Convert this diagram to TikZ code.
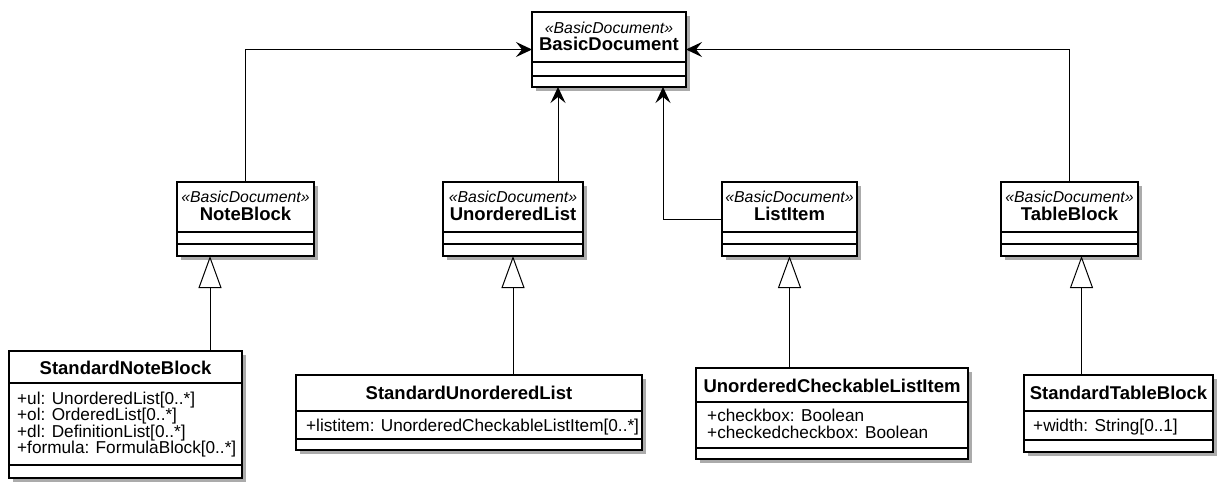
\documentclass[tikz,border=0pt]{standalone}
\usepackage{fontspec}
\setmainfont{Liberation Sans}
\usepackage{tikz}
\usetikzlibrary{arrows.meta, shadows}

\begin{document}
\begin{tikzpicture}[x=1pt, y=-1pt,
        cls/.style={draw, line width=1.7pt, fill=white, anchor=north west, inner sep=0pt, outer sep=0pt,
            drop shadow={shadow xshift=4pt, shadow yshift=-4pt, fill=black!55, opacity=.6}},
        stereo/.style={anchor=base, inner sep=0pt, font=\fontsize{15.8}{17}\selectfont\itshape},
        cname/.style={anchor=base, inner sep=0pt, font=\fontsize{18.5}{20}\selectfont\bfseries},
        attr/.style={inner sep=0pt, align=left, font=\fontsize{17.2}{16.6}\selectfont},
        sep/.style={line width=1.6pt},
        dep/.style={line width=1pt, -{Stealth[length=16pt, width=15pt, inset=6pt]}},
        inh/.style={line width=1pt, -{Triangle[length=32pt, width=23pt, fill=white]}}]
                \useasboundingbox (0,0) rectangle (1230,493);
                % top class
                \node[cls, minimum width=154, minimum height=75] (bd) at (532,12) {};
                \node[stereo] at (609,33) {«BasicDocument»};
                \node[cname] at (609,50) {BasicDocument};
                \draw[sep] (532,62) -- (686,62);
                \draw[sep] (532,76) -- (686,76);
                % second row
                \foreach \nm/\lbl/\x/\w in {nb/NoteBlock/177/137, ul/UnorderedList/443/140, li/ListItem/722/135, tb/TableBlock/1001/137}{
                    \node[cls, minimum width=\w, minimum height=74] (\nm) at (\x,182) {};
                    \node[stereo] at (\x+\w/2,202) {«BasicDocument»};
                    \node[cname] at (\x+\w/2,220) {\lbl};
                    \draw[sep] (\x,232) -- (\x+\w,232);
                    \draw[sep] (\x,244) -- (\x+\w,244);
                }
                % bottom row
                \node[cls, minimum width=233, minimum height=127] (snb) at (9,351) {};
                \node[cname] at (125.5,374) {StandardNoteBlock};
                \draw[sep] (9,383) -- (242,383);
                \node[attr, anchor=north west] at (17,391.5) {+ul: UnorderedList[0..*]\\+ol: OrderedList[0..*]\\+dl: DefinitionList[0..*]\\+formula: FormulaBlock[0..*]};
                \draw[sep] (9,465) -- (242,465);

                \node[cls, minimum width=346, minimum height=75] (sul) at (296,375) {};
                \node[cname] at (469,399) {StandardUnorderedList};
                \draw[sep] (296,411) -- (642,411);
                \node[attr, anchor=base west] at (306,431) {+listitem: UnorderedCheckableListItem[0..*]};
                \draw[sep] (296,439) -- (642,439);

                \node[cls, minimum width=272, minimum height=91] (ucli) at (696,368) {};
                \node[cname] at (832,392) {UnorderedCheckableListItem};
                \draw[sep] (696,402) -- (968,402);
                \node[attr, anchor=north west] at (707,409) {+checkbox: Boolean\\+checkedcheckbox: Boolean};
                \draw[sep] (696,448) -- (968,448);

                \node[cls, minimum width=189, minimum height=77] (stb) at (1024,375) {};
                \node[cname] at (1118.5,399) {StandardTableBlock};
                \draw[sep] (1024,411) -- (1213,411);
                \node[attr, anchor=base west] at (1033,431) {+width: String[0..1]};
                \draw[sep] (1024,440) -- (1213,440);
                % connectors
                \draw[dep] (nb.north) |- (bd.west);
                \draw[dep] ([xshift=-25pt]ul.north east) -- ([xshift=-25pt]ul.north east |- bd.south);
                \draw[dep] (li.west) -| ([xshift=-23pt]bd.south east);
                \draw[dep] (tb.north) |- (bd.east);
                \draw[inh] ([xshift=-32pt]snb.north east) -- ([xshift=-32pt]snb.north east |- nb.south);
                \draw[inh] (sul.north -| ul.south) -- (ul.south);
                \draw[inh] (ucli.north -| li.south) -- (li.south);
                \draw[inh] ([xshift=-37pt]stb.north) -- ([xshift=-37pt]stb.north |- tb.south);
            \end{tikzpicture}
\end{document}
